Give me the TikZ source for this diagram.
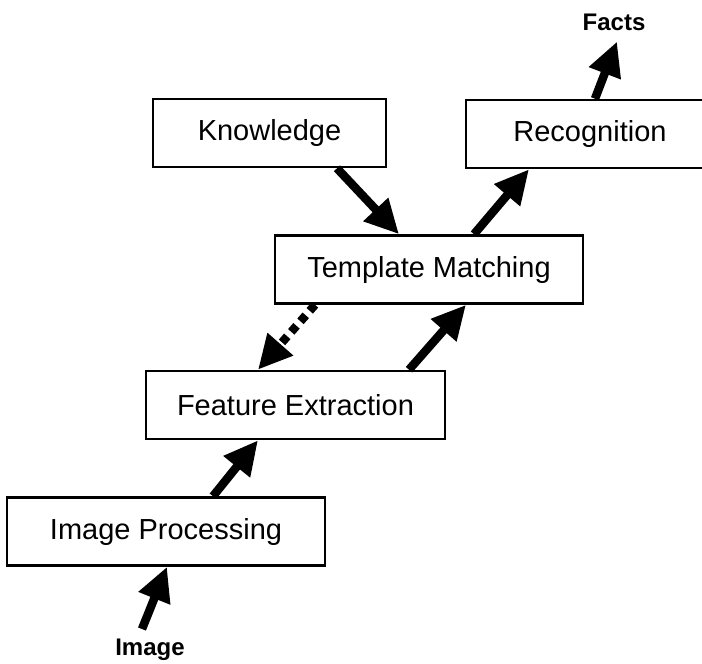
\documentclass[tikz,border=0pt]{standalone}
\usepackage{fontspec}
\setmainfont{Liberation Sans}
\usetikzlibrary{arrows.meta,calc}

\begin{document}
\begin{tikzpicture}[x=1pt,y=-1pt,
    box/.style={draw,line width=2.6pt,inner sep=0pt,minimum height=68pt,
      font=\fontsize{29}{34}\selectfont},
    lbl/.style={font=\fontsize{24}{28}\selectfont\bfseries,inner sep=2pt},
    flow/.style={line width=8.5pt,-{Triangle[length=34pt,width=32pt]}},
    hint/.style={flow,dash pattern=on 8pt off 6pt}]
    \useasboundingbox (0,0) rectangle (702,664);
    % boxes
    \node[box,minimum width=233pt] (kn) at (269.5,133) {Knowledge};
    \node[box,minimum width=248pt] (rec) at (590,134) {Recognition};
    \node[box,minimum width=308pt] (tm) at (429,269.5) {Template Matching};
    \node[box,minimum width=299pt] (fe) at (295.5,405) {Feature Extraction};
    \node[box,minimum width=318pt] (ip) at (166,531.5) {Image Processing};
    \node[lbl] (facts) at (614,22) {Facts};
    \node[lbl] (img) at (150,650) {Image};
    % arrows
    \draw[flow] ([xshift=-8pt,yshift=8pt]img.north) -- ([xshift=1pt]ip.south);
    \draw[flow] ([xshift=47pt]ip.north) -- ([xshift=-37.5pt]fe.south);
    \draw[flow] ([xshift=113.5pt]fe.north) -- ([xshift=37pt]tm.south);
    \draw[hint] ([xshift=-114pt]tm.south) -- ([xshift=-37.5pt]fe.north);
    \draw[flow] ([xshift=67.5pt]kn.south) -- ([xshift=-30pt]tm.north);
    \draw[flow] ([xshift=45pt]tm.north) -- ([xshift=-61pt]rec.south);
    \draw[flow] ([xshift=5pt]rec.north) -- ([xshift=3pt,yshift=-9pt]facts.south);
\end{tikzpicture}
\end{document}
